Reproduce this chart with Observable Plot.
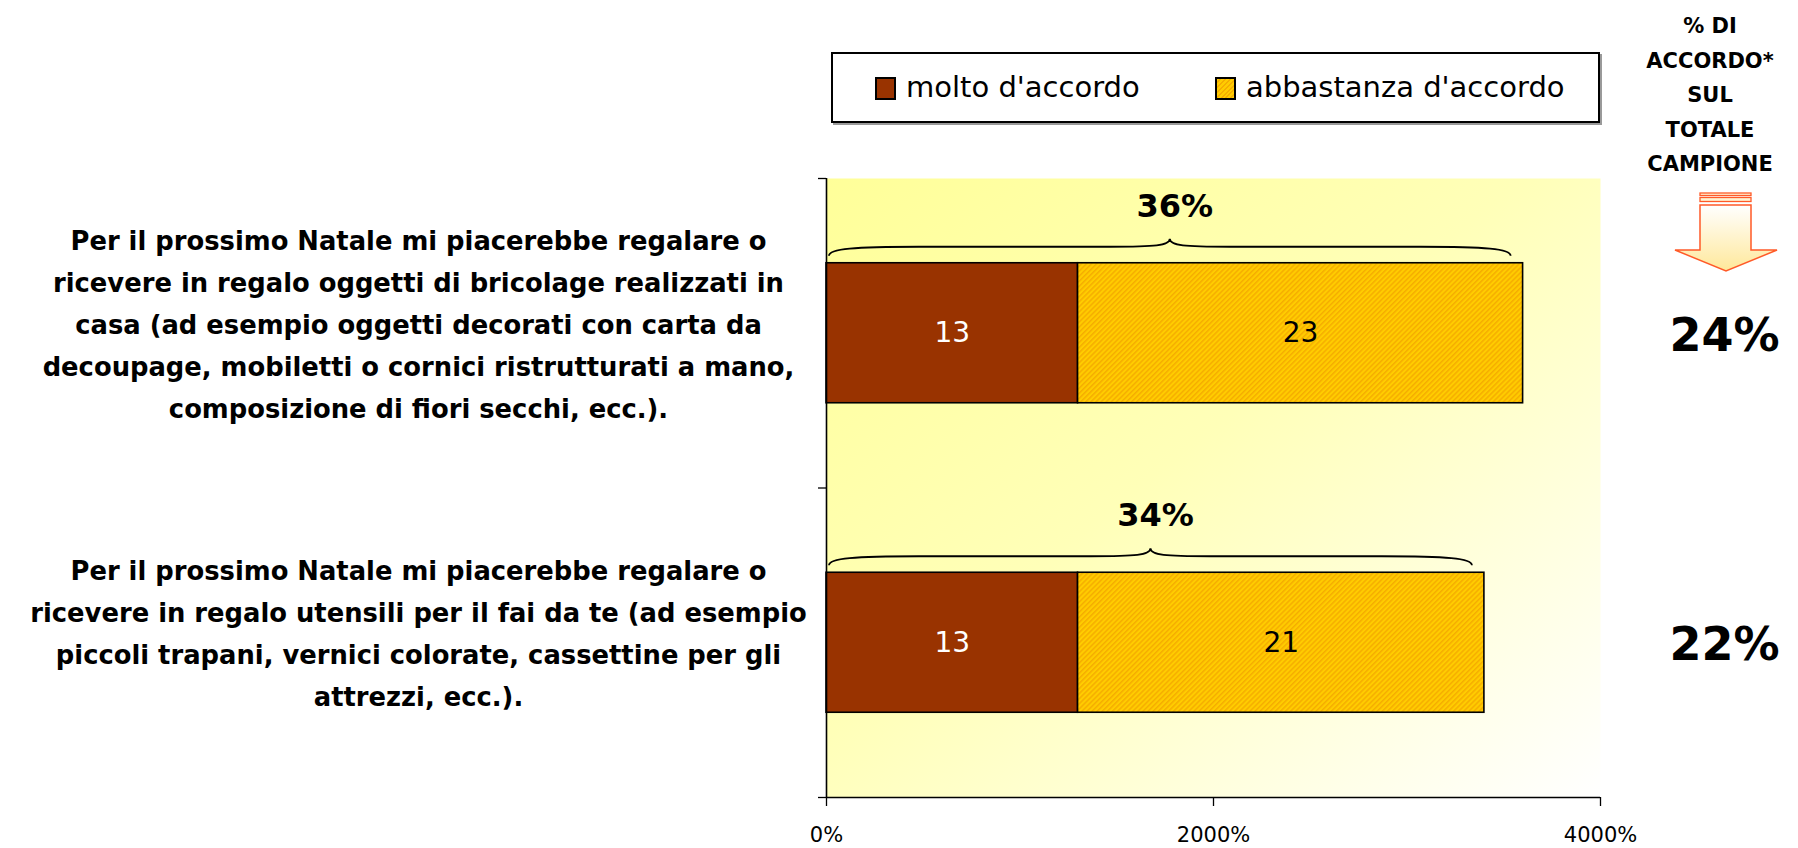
<!DOCTYPE html>
<html>
<head>
<meta charset="utf-8">
<script src="https://cdn.jsdelivr.net/npm/d3@7"></script>
<script src="https://cdn.jsdelivr.net/npm/@observablehq/plot@0.6"></script>
<style>
  body { margin: 0; background: #ffffff; font-family: "DejaVu Sans", sans-serif; }
  #wrap { position: relative; width: 1798px; height: 848px; overflow: hidden; background: #fff; }
  #chart { position: absolute; left: 0; top: 0; }
  #legend { position: absolute; left: 831px; top: 52px; width: 765px; height: 67px; border: 2px solid #000; box-shadow: 2px 2px 0 #9a9a9a; background: #fff; }
  .sw { position: absolute; top: 23px; width: 17px; height: 19px; border: 2px solid #000; }
  .lt { position: absolute; top: 11px; font-size: 29px; line-height: 44px; color: #000; white-space: nowrap; }
  #header { position: absolute; left: 1620px; top: 9px; width: 180px; text-align: center; font-weight: bold; font-size: 21px; line-height: 34.5px; color: #000; }
  #arrow { position: absolute; left: 1670px; top: 188px; }
</style>
</head>
<body>
<div id="wrap">
  <div id="chart"></div>
  <div id="legend"></div>
  <div id="header"></div>
  <svg id="arrow" width="112" height="90" viewBox="0 0 112 90">
    <defs>
      <linearGradient id="arrGrad" x1="0" y1="0" x2="0" y2="1">
        <stop offset="0" stop-color="#ffffff"/>
        <stop offset="1" stop-color="#ffe89a"/>
      </linearGradient>
    </defs>
    <rect x="30" y="5" width="51" height="2.5" fill="#fff3d0" stroke="#ff5a28" stroke-width="1.3"/>
    <rect x="30" y="9.5" width="51" height="4" fill="#fff3d0" stroke="#ff5a28" stroke-width="1.3"/>
    <path d="M30,17 H81 V62 H107 L56,83 L5,62 H30 Z" fill="url(#arrGrad)" stroke="#ff5a28" stroke-width="1.5" stroke-linejoin="miter"/>
  </svg>
</div>
<script>
// ---------------- data ----------------
const categories = [
  "Per il prossimo Natale mi piacerebbe regalare o\nricevere in regalo oggetti di bricolage realizzati in\ncasa (ad esempio oggetti decorati con carta da\ndecoupage, mobiletti o cornici ristrutturati a mano,\ncomposizione di fiori secchi, ecc.).",
  "Per il prossimo Natale mi piacerebbe regalare o\nricevere in regalo utensili per il fai da te (ad esempio\npiccoli trapani, vernici colorate, cassettine per gli\nattrezzi, ecc.)."
];
const seriesNames = ["molto d'accordo", "abbastanza d'accordo"];
const molto = [13, 13];
const abbastanza = [23, 21];
const totaleAccordo = [36, 34];
const totaleCampione = ["24%", "22%"];
const xTicks = [0, 20, 40];
const headerLines = ["% DI", "ACCORDO*", "SUL", "TOTALE", "CAMPIONE"];

const BROWN = "#993300";
const HATCH = "url(#hatch)";

// ---------------- table ----------------
const rows = [];
categories.forEach((c, i) => {
  let start = 0;
  [molto[i], abbastanza[i]].forEach((v, s) => {
    rows.push({cat: c, idx: i, series: seriesNames[s], x1: start, x2: start + v, value: v});
    start += v;
  });
});
const totals = categories.map((c, i) => ({idx: i, total: totaleAccordo[i], camp: totaleCampione[i]}));

const W = 1798, H = 848;
const mL = 826, mR = 198, mT = 178, mB = 51;
const step = (H - mT - mB) / categories.length;
const barH = 140;
const inset = (step - barH) / 2;

// defs: background gradient + hatch pattern
function defsMark() {
  const defs = d3.create("svg:defs");
  const g = defs.append("linearGradient").attr("id", "bgGrad")
    .attr("x1", 0).attr("y1", 0).attr("x2", 1).attr("y2", 1);
  g.append("stop").attr("offset", 0).attr("stop-color", "#ffff99");
  g.append("stop").attr("offset", 0.45).attr("stop-color", "#ffffb8");
  g.append("stop").attr("offset", 1).attr("stop-color", "#ffffff");
  const p = defs.append("pattern").attr("id", "hatch").attr("patternUnits", "userSpaceOnUse")
    .attr("width", 3.6).attr("height", 10).attr("patternTransform", "rotate(45)");
  p.append("rect").attr("width", 3.6).attr("height", 10).attr("fill", "#ffcc00");
  p.append("rect").attr("width", 1.5).attr("height", 10).attr("fill", "#f5ad00");
  return defs.node();
}

// curly braces above each bar, drawn from the plot's scales
function bracesMark(index, scales) {
  const {x, y} = scales;
  const g = d3.create("svg:g").attr("fill", "none").attr("stroke", "#000").attr("stroke-width", 1.8);
  totals.forEach(d => {
    const x0 = x(0) + 3, x1 = x(d.total) - 12, m = (x0 + x1) / 2;
    const top = y(d.idx) + inset;
    const yEnd = top - 7, yFlat = top - 16, yTip = top - 24;
    const path = `M${x0},${yEnd} C${x0},${yFlat + 2} ${x0 + 25},${yFlat} ${x0 + 90},${yFlat}
      L${m - 60},${yFlat} C${m - 15},${yFlat} ${m},${yFlat - 1} ${m},${yTip}
      C${m},${yFlat - 1} ${m + 15},${yFlat} ${m + 60},${yFlat}
      L${x1 - 90},${yFlat} C${x1 - 25},${yFlat} ${x1},${yFlat + 2} ${x1},${yEnd}`;
    g.append("path").attr("d", path);
  });
  return g.node();
}

const chart = Plot.plot({
  width: W, height: H,
  marginLeft: mL, marginRight: mR, marginTop: mT, marginBottom: mB,
  style: {fontFamily: "'DejaVu Sans', sans-serif", background: "transparent", color: "#000", overflow: "visible"},
  x: {domain: [xTicks[0], xTicks[xTicks.length - 1]], label: null},
  y: {domain: [0, categories.length], reverse: true, label: null},
  marks: [
    defsMark,
    Plot.frame({fill: "url(#bgGrad)", stroke: "none"}),
    // bars
    Plot.rectX(rows.filter(d => d.series === seriesNames[0]), {x1: "x1", x2: "x2", y1: "idx", y2: d => d.idx + 1, fill: BROWN, stroke: "#000", strokeWidth: 1.6, insetTop: inset, insetBottom: inset}),
    Plot.rectX(rows.filter(d => d.series === seriesNames[1]), {x1: "x1", x2: "x2", y1: "idx", y2: d => d.idx + 1, fill: HATCH, stroke: "#000", strokeWidth: 1.6, insetTop: inset, insetBottom: inset}),
    // bar value labels
    Plot.text(rows.filter(d => d.series === seriesNames[0]), {x: d => (d.x1 + d.x2) / 2, y: d => d.idx + 0.5, text: d => String(d.value), fill: "#fff", fontSize: 28}),
    Plot.text(rows.filter(d => d.series === seriesNames[1]), {x: d => (d.x1 + d.x2) / 2, y: d => d.idx + 0.5, text: d => String(d.value), fill: "#000", fontSize: 28}),
    // braces and totals
    bracesMark,
    Plot.text(totals, {x: d => d.total / 2, y: "idx", dy: 28, text: d => d.total + "%", fontSize: 32, fontWeight: "bold"}),
    // axes
    Plot.axisY({ticks: d3.range(categories.length + 1), tickSize: 8, tickFormat: () => "", label: null, stroke: "#000", strokeWidth: 1.3}),
    Plot.axisX({ticks: xTicks, tickSize: 9, tickPadding: 21, tickFormat: d => d * 100 + "%", fontSize: 21, label: null, stroke: "#000", strokeWidth: 1.3}),
    Plot.ruleX([0], {stroke: "#000", strokeWidth: 1.6}),
    Plot.ruleY([categories.length], {stroke: "#000", strokeWidth: 1.6}),
    // category labels on the left
    Plot.text(categories, {y: (d, i) => i + 0.5, frameAnchor: "left", textAnchor: "middle", dx: -408, dy: -13, lineHeight: 1.63, text: d => d, fontSize: 25.8, fontWeight: "bold"}),
    // totale campione column on the right
    Plot.text(totals, {y: d => d.idx + 0.5, frameAnchor: "right", textAnchor: "middle", dx: 124, dy: 3, text: "camp", fontSize: 46, fontWeight: "bold"})
  ]
});
document.getElementById("chart").append(chart);

// legend (HTML, above the plot)
const legend = d3.select("#legend");
const swFill = [BROWN, "repeating-linear-gradient(135deg, #ffcc00 0 2px, #f5ad00 2px 3.4px)"];
const swLeft = [42, 382], txtLeft = [73, 413];
seriesNames.forEach((s, i) => {
  legend.append("div").attr("class", "sw").style("left", swLeft[i] + "px").style("background", swFill[i]);
  legend.append("div").attr("class", "lt").style("left", txtLeft[i] + "px").text(s);
});

// header of right column
d3.select("#header").selectAll("div").data(headerLines).join("div").text(d => d);
</script>
</body>
</html>
